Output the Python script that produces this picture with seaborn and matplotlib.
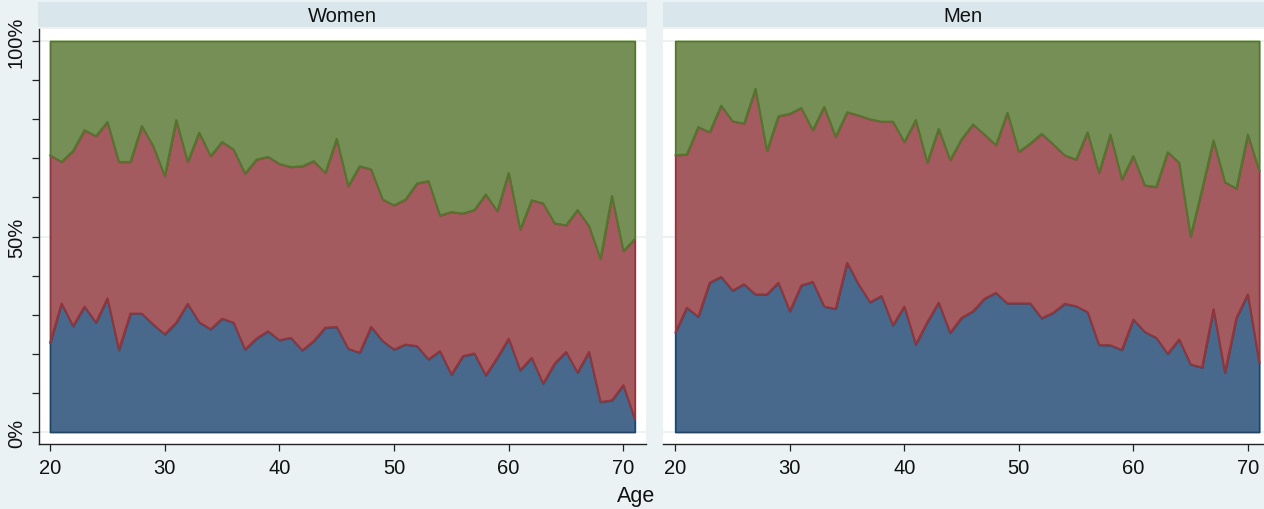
import numpy as np
import pandas as pd
import matplotlib
matplotlib.use("Agg")
import matplotlib.pyplot as plt
import seaborn as sns

ages = list(range(20, 72))

# share (%) of the first (blue) and second (red) category; the rest is green
women_blue = [22.8, 32.9, 27.1, 32.1, 28.0, 34.2, 21.0, 30.3, 30.3, 27.5,
              25.0, 28.0, 32.8, 28.1, 26.3, 29.0, 28.0, 21.1, 23.9, 25.8,
              23.5, 24.1, 20.9, 23.3, 26.7, 26.9, 21.3, 20.3, 26.9, 23.3,
              21.1, 22.4, 22.0, 18.6, 20.7, 14.7, 19.4, 20.1, 14.5, 19.0,
              23.9, 15.8, 19.0, 12.4, 17.5, 20.5, 15.2, 20.5, 7.7, 8.1,
              12.0, 3.2]
women_red = [48.0, 36.2, 44.8, 45.1, 47.7, 45.1, 48.1, 38.8, 48.0, 45.6,
             40.5, 51.8, 36.3, 48.5, 44.3, 45.2, 44.3, 45.0, 45.8, 44.6,
             45.1, 43.7, 47.1, 46.0, 39.6, 48.1, 41.6, 47.7, 40.3, 36.2,
             36.9, 37.1, 41.6, 45.6, 34.7, 41.6, 36.5, 36.7, 46.3, 37.5,
             42.4, 36.0, 40.3, 46.1, 35.9, 32.4, 41.6, 32.2, 36.6, 52.3,
             34.3, 46.2]
men_blue = [25.4, 31.8, 29.5, 38.2, 39.7, 36.2, 37.8, 35.2, 35.2, 38.2,
            30.9, 37.5, 38.4, 32.1, 31.5, 43.3, 37.8, 33.2, 34.8, 27.3,
            32.1, 22.4, 28.1, 33.1, 25.4, 29.2, 30.9, 34.1, 35.6, 32.9,
            32.9, 32.9, 29.1, 30.5, 32.8, 32.2, 30.7, 22.3, 22.2, 21.0,
            28.8, 25.6, 24.1, 20.0, 23.7, 17.3, 16.5, 31.4, 15.2, 29.2,
            35.2, 17.7]
men_red = [45.4, 39.2, 48.5, 38.5, 43.8, 43.3, 41.1, 52.6, 36.7, 42.6,
           50.5, 45.4, 38.8, 51.1, 44.0, 38.5, 43.2, 46.8, 44.6, 52.1,
           42.1, 57.4, 40.8, 44.5, 44.2, 45.7, 47.8, 42.0, 37.8, 48.8,
           38.8, 40.9, 47.2, 43.1, 38.0, 37.5, 46.0, 44.0, 53.9, 43.6,
           41.8, 37.5, 38.6, 51.6, 45.2, 32.7, 45.6, 43.2, 48.7, 33.1,
           40.9, 49.1]

panels = ["Women", "Men"]
y_ticks = [0, 10, 20, 30, 40, 50, 60, 70, 80, 90, 100]
y_labels = ["0%", "", "", "", "", "50%", "", "", "", "", "100%"]
fills = ["#48698B", "#A35B5F", "#768F56"]
edges = ["#1A476F", "#90353B", "#55752F"]
bg = "#EAF2F3"
strip = "#D9E6EB"

sns.set_theme(style="white")
plt.rcParams["font.family"] = ["Liberation Sans", "DejaVu Sans"]

W, H = 1264, 510
fig = plt.figure(figsize=(W / 100, H / 100), dpi=100, facecolor=bg)


def px_box(x0, y0, x1, y1):
    return [x0 / W, 1 - y1 / H, (x1 - x0) / W, (y1 - y0) / H]


boxes = {"Women": (39, 30, 646, 445), "Men": (663, 30, 1264, 445)}
strips = {"Women": (37.5, 3, 646.7, 28), "Men": (662.7, 3, 1264, 28)}
xlims = {"Women": (19.04, 71.98), "Men": (18.93, 71.42)}
series = {"Women": (women_blue, women_red), "Men": (men_blue, men_red)}

for name in panels:
    ax = fig.add_axes(px_box(*boxes[name]))
    ax.set_facecolor("white")
    blue, red = series[name]
    df = pd.DataFrame({"age": ages, "blue": blue, "red": red})
    df["low"] = df["blue"]
    df["high"] = df["blue"] + df["red"]

    for g in [0, 50, 100]:
        ax.axhline(g, color=bg, lw=1.4, zorder=0)

    # stacked bands, drawn bottom to top so each outline sits on the one below
    bands = [(0, df["low"]), (df["low"], df["high"]), (df["high"], 100)]
    for (lo, hi), fc, ec in zip(bands, fills, edges):
        ax.fill_between(df["age"], lo, hi, facecolor=fc, edgecolor=ec,
                        linewidth=1.3, zorder=2)
    sns.lineplot(data=df, x="age", y="low", color=edges[1], lw=1.3,
                 ax=ax, zorder=3)
    sns.lineplot(data=df, x="age", y="high", color=edges[2], lw=1.3,
                 ax=ax, zorder=3)

    ax.set_xlim(*xlims[name])
    ax.set_ylim(-3.07, 103.07)
    ax.set_xlabel("")
    ax.set_ylabel("")
    ax.set_xticks([20, 30, 40, 50, 60, 70])
    ax.tick_params(axis="x", direction="out", length=5, width=0.9,
                   color="#222222", labelsize=14.5, pad=5, bottom=True,
                   labelcolor="#111111")
    for s in ["top", "right"]:
        ax.spines[s].set_visible(False)
    ax.spines["bottom"].set_color("#222222")
    ax.spines["bottom"].set_linewidth(1.0)
    if name == "Women":
        ax.set_yticks(y_ticks)
        ax.set_yticklabels(y_labels, rotation=90, va="center")
        ax.tick_params(axis="y", direction="out", length=5, width=0.9,
                       color="#222222", labelsize=14.5, pad=4.5,
                       left=True, labelcolor="#111111")
        ax.spines["left"].set_color("#222222")
        ax.spines["left"].set_linewidth(1.0)
    else:
        ax.set_yticks([])
        ax.spines["left"].set_visible(False)

    sx0, sy0, sx1, sy1 = strips[name]
    sax = fig.add_axes(px_box(sx0, sy0, sx1, sy1))
    sax.set_facecolor(strip)
    sax.set_xticks([])
    sax.set_yticks([])
    for s in sax.spines.values():
        s.set_visible(False)
    sax.text(0.5, 0.45, name, ha="center", va="center", fontsize=14.5,
             color="#111111", transform=sax.transAxes)

fig.text(636 / W, 1 - 497 / H, "Age", ha="center", va="center",
         fontsize=15.5, color="#111111")

fig.savefig("out.png", dpi=100, facecolor=bg)
